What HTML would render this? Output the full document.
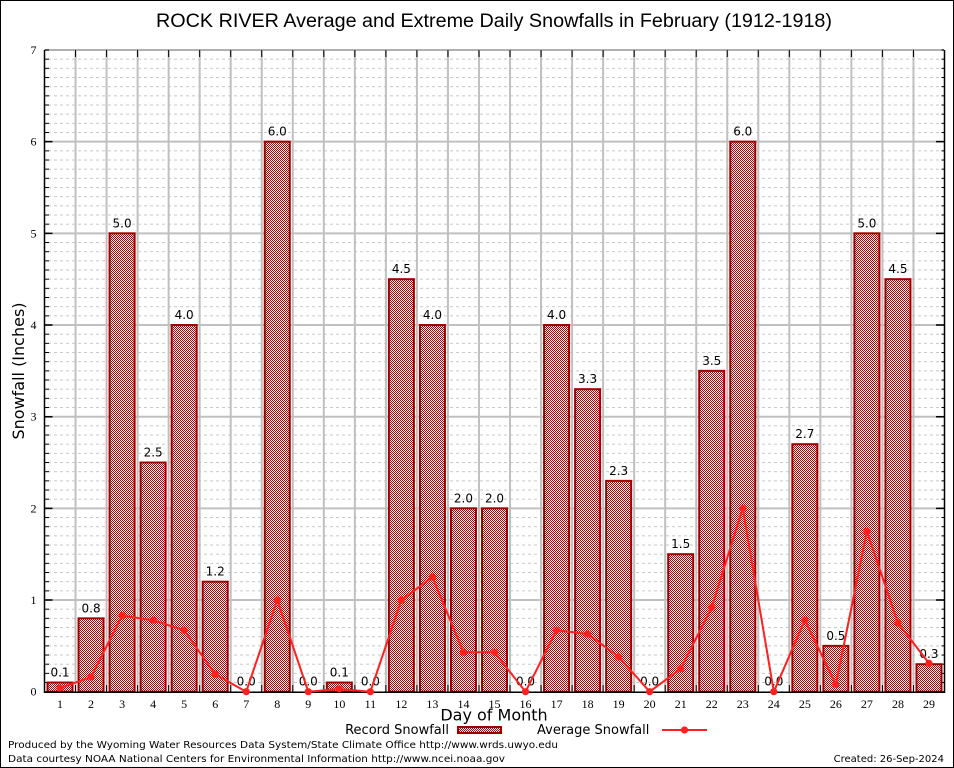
<!DOCTYPE html>
<html><head><meta charset="utf-8"><style>
html,body{margin:0;padding:0;background:#fff;}
svg{display:block;}
</style></head><body>
<svg width="954" height="768" viewBox="0 0 954 768" xmlns="http://www.w3.org/2000/svg">
<defs>
<pattern id="chk" patternUnits="userSpaceOnUse" x="0" y="0" width="2" height="2">
<rect x="0" y="0" width="2" height="2" fill="#ffffff"/>
<rect x="0" y="0" width="1" height="1" fill="#b00000"/>
<rect x="1" y="1" width="1" height="1" fill="#b00000"/>
</pattern>
<pattern id="minor" patternUnits="userSpaceOnUse" x="0" y="49.5" width="6" height="9.1671">
<rect x="0" y="0" width="3" height="1" fill="#c8c8c8"/>
</pattern>
<pattern id="tickL" patternUnits="userSpaceOnUse" x="0" y="49.5" width="954" height="9.1671">
<rect x="0" y="0" width="954" height="1" fill="#000"/>
</pattern>
</defs>
<rect x="0" y="0" width="954" height="768" fill="#fff"/>
<rect x="0.5" y="0.5" width="953" height="767" fill="none" stroke="#000" stroke-width="1"/>

<text x="494" y="27" text-anchor="middle" font-family="Liberation Sans, sans-serif" font-size="19" textLength="676" lengthAdjust="spacingAndGlyphs" fill="#000">ROCK RIVER Average and Extreme Daily Snowfalls in February (1912-1918)</text>

<rect x="45" y="49.5" width="899" height="642.5" fill="url(#minor)"/>
<path d="M45 600.03H944M45 508.36H944M45 416.69H944M45 325.02H944M45 233.35H944M45 141.67H944" stroke="#c0c0c0" stroke-width="2" fill="none"/>
<path d="M44.5 50H944" stroke="#b0b0b0" stroke-width="2" fill="none"/>
<path d="M75.53 50V691.7M106.57 50V691.7M137.60 50V691.7M168.64 50V691.7M199.67 50V691.7M230.71 50V691.7M261.74 50V691.7M292.78 50V691.7M323.81 50V691.7M354.84 50V691.7M385.88 50V691.7M416.91 50V691.7M447.95 50V691.7M478.98 50V691.7M510.02 50V691.7M541.05 50V691.7M572.09 50V691.7M603.12 50V691.7M634.16 50V691.7M665.19 50V691.7M696.22 50V691.7M727.26 50V691.7M758.29 50V691.7M789.33 50V691.7M820.36 50V691.7M851.40 50V691.7M882.43 50V691.7M913.47 50V691.7" stroke="#c0c0c0" stroke-width="2" fill="none"/>

<rect x="45" y="49.5" width="4" height="643" fill="url(#tickL)"/>
<rect x="941.5" y="49.5" width="2.5" height="643" fill="url(#tickL)"/>
<path d="M44.5 600.03H52.5M44.5 508.36H52.5M44.5 416.69H52.5M44.5 325.02H52.5M44.5 233.35H52.5M44.5 141.67H52.5M936 600.03H944M936 508.36H944M936 416.69H944M936 325.02H944M936 233.35H944M936 141.67H944" stroke="#000" stroke-width="1.5" fill="none"/>
<path d="M75.53 50V57M106.57 50V57M137.60 50V57M168.64 50V57M199.67 50V57M230.71 50V57M261.74 50V57M292.78 50V57M323.81 50V57M354.84 50V57M385.88 50V57M416.91 50V57M447.95 50V57M478.98 50V57M510.02 50V57M541.05 50V57M572.09 50V57M603.12 50V57M634.16 50V57M665.19 50V57M696.22 50V57M727.26 50V57M758.29 50V57M789.33 50V57M820.36 50V57M851.40 50V57M882.43 50V57M913.47 50V57M75.53 691.7V685M106.57 691.7V685M137.60 691.7V685M168.64 691.7V685M199.67 691.7V685M230.71 691.7V685M261.74 691.7V685M292.78 691.7V685M323.81 691.7V685M354.84 691.7V685M385.88 691.7V685M416.91 691.7V685M447.95 691.7V685M478.98 691.7V685M510.02 691.7V685M541.05 691.7V685M572.09 691.7V685M603.12 691.7V685M634.16 691.7V685M665.19 691.7V685M696.22 691.7V685M727.26 691.7V685M758.29 691.7V685M789.33 691.7V685M820.36 691.7V685M851.40 691.7V685M882.43 691.7V685M913.47 691.7V685" stroke="#000" stroke-width="1" fill="none"/>

<g fill="url(#chk)" stroke="#a00000" stroke-width="2">
<rect x="47.52" y="682.53" width="25" height="9.17"/>
<rect x="78.55" y="618.36" width="25" height="73.34"/>
<rect x="109.59" y="233.35" width="25" height="458.35"/>
<rect x="140.62" y="462.52" width="25" height="229.18"/>
<rect x="171.66" y="325.02" width="25" height="366.68"/>
<rect x="202.69" y="581.70" width="25" height="110.0"/>
<rect x="264.76" y="141.67" width="25" height="550.03"/>
<rect x="326.83" y="682.53" width="25" height="9.17"/>
<rect x="388.90" y="279.18" width="25" height="412.52"/>
<rect x="419.93" y="325.02" width="25" height="366.68"/>
<rect x="450.97" y="508.36" width="25" height="183.34"/>
<rect x="482.00" y="508.36" width="25" height="183.34"/>
<rect x="544.07" y="325.02" width="25" height="366.68"/>
<rect x="575.10" y="389.19" width="25" height="302.51"/>
<rect x="606.14" y="480.86" width="25" height="210.84"/>
<rect x="668.21" y="554.19" width="25" height="137.51"/>
<rect x="699.24" y="370.85" width="25" height="320.85"/>
<rect x="730.28" y="141.67" width="25" height="550.03"/>
<rect x="792.34" y="444.19" width="25" height="247.51"/>
<rect x="823.38" y="645.86" width="25" height="45.84"/>
<rect x="854.41" y="233.35" width="25" height="458.35"/>
<rect x="885.45" y="279.18" width="25" height="412.52"/>
<rect x="916.48" y="664.20" width="25" height="27.5"/>
</g>

<path d="M44.5 50V692.2H944.5V50" stroke="#000" stroke-width="1.5" fill="none"/>

<g font-family="DejaVu Sans, sans-serif" font-size="12" text-anchor="middle" fill="#000">
<text x="60.02" y="676.5">0.1</text>
<text x="91.05" y="612.4">0.8</text>
<text x="122.09" y="227.4">5.0</text>
<text x="153.12" y="456.5">2.5</text>
<text x="184.16" y="319.0">4.0</text>
<text x="215.19" y="575.7">1.2</text>
<text x="246.22" y="685.7">0.0</text>
<text x="277.26" y="135.7">6.0</text>
<text x="308.29" y="685.7">0.0</text>
<text x="339.33" y="676.5">0.1</text>
<text x="370.36" y="685.7">0.0</text>
<text x="401.40" y="273.2">4.5</text>
<text x="432.43" y="319.0">4.0</text>
<text x="463.47" y="502.4">2.0</text>
<text x="494.50" y="502.4">2.0</text>
<text x="525.53" y="685.7">0.0</text>
<text x="556.57" y="319.0">4.0</text>
<text x="587.60" y="383.2">3.3</text>
<text x="618.64" y="474.9">2.3</text>
<text x="649.67" y="685.7">0.0</text>
<text x="680.71" y="548.2">1.5</text>
<text x="711.74" y="364.9">3.5</text>
<text x="742.78" y="135.7">6.0</text>
<text x="773.81" y="685.7">0.0</text>
<text x="804.84" y="438.2">2.7</text>
<text x="835.88" y="639.9">0.5</text>
<text x="866.91" y="227.4">5.0</text>
<text x="897.95" y="273.2">4.5</text>
<text x="928.98" y="658.2">0.3</text>
</g>

<polyline fill="none" stroke="#ff2020" stroke-width="2" stroke-linejoin="round" points="60.02,688.03 91.05,677.03 122.09,615.61 153.12,620.20 184.16,630.28 215.19,674.28 246.22,691.7 277.26,600.03 308.29,691.7 339.33,688.95 370.36,691.7 401.40,600.03 432.43,577.11 463.47,652.28 494.50,652.28 525.53,691.7 556.57,630.28 587.60,633.95 618.64,656.87 649.67,691.7 680.71,668.78 711.74,607.36 742.78,508.36 773.81,691.7 804.84,620.20 835.88,684.37 866.91,531.28 897.95,622.95 928.98,663.28"/>
<g fill="#ff2020">
<circle cx="60.02" cy="688.03" r="3.6"/><circle cx="91.05" cy="677.03" r="3.6"/><circle cx="122.09" cy="615.61" r="3.6"/><circle cx="153.12" cy="620.20" r="3.6"/><circle cx="184.16" cy="630.28" r="3.6"/><circle cx="215.19" cy="674.28" r="3.6"/><circle cx="246.22" cy="691.7" r="3.6"/><circle cx="277.26" cy="600.03" r="3.6"/><circle cx="308.29" cy="691.7" r="3.6"/><circle cx="339.33" cy="688.95" r="3.6"/><circle cx="370.36" cy="691.7" r="3.6"/><circle cx="401.40" cy="600.03" r="3.6"/><circle cx="432.43" cy="577.11" r="3.6"/><circle cx="463.47" cy="652.28" r="3.6"/><circle cx="494.50" cy="652.28" r="3.6"/><circle cx="525.53" cy="691.7" r="3.6"/><circle cx="556.57" cy="630.28" r="3.6"/><circle cx="587.60" cy="633.95" r="3.6"/><circle cx="618.64" cy="656.87" r="3.6"/><circle cx="649.67" cy="691.7" r="3.6"/><circle cx="680.71" cy="668.78" r="3.6"/><circle cx="711.74" cy="607.36" r="3.6"/><circle cx="742.78" cy="508.36" r="3.6"/><circle cx="773.81" cy="691.7" r="3.6"/><circle cx="804.84" cy="620.20" r="3.6"/><circle cx="835.88" cy="684.37" r="3.6"/><circle cx="866.91" cy="531.28" r="3.6"/><circle cx="897.95" cy="622.95" r="3.6"/><circle cx="928.98" cy="663.28" r="3.6"/>
</g>

<g font-family="Liberation Serif, serif" font-size="12" text-anchor="end" fill="#000">
<text x="36.5" y="695.7">0</text>
<text x="36.5" y="604.0">1</text>
<text x="36.5" y="512.4">2</text>
<text x="36.5" y="420.7">3</text>
<text x="36.5" y="329.0">4</text>
<text x="36.5" y="237.4">5</text>
<text x="36.5" y="145.7">6</text>
<text x="36.5" y="54.0">7</text>
</g>
<g font-family="Liberation Serif, serif" font-size="12" text-anchor="middle" fill="#000">
<text x="60.02" y="708">1</text><text x="91.05" y="708">2</text><text x="122.09" y="708">3</text><text x="153.12" y="708">4</text><text x="184.16" y="708">5</text><text x="215.19" y="708">6</text><text x="246.22" y="708">7</text><text x="277.26" y="708">8</text><text x="308.29" y="708">9</text><text x="339.33" y="708">10</text><text x="370.36" y="708">11</text><text x="401.40" y="708">12</text><text x="432.43" y="708">13</text><text x="463.47" y="708">14</text><text x="494.50" y="708">15</text><text x="525.53" y="708">16</text><text x="556.57" y="708">17</text><text x="587.60" y="708">18</text><text x="618.64" y="708">19</text><text x="649.67" y="708">20</text><text x="680.71" y="708">21</text><text x="711.74" y="708">22</text><text x="742.78" y="708">23</text><text x="773.81" y="708">24</text><text x="804.84" y="708">25</text><text x="835.88" y="708">26</text><text x="866.91" y="708">27</text><text x="897.95" y="708">28</text><text x="928.98" y="708">29</text>
</g>

<text x="494" y="720.5" text-anchor="middle" font-family="DejaVu Sans, sans-serif" font-size="16" fill="#000">Day of Month</text>
<text transform="translate(24,371) rotate(-90)" text-anchor="middle" font-family="DejaVu Sans, sans-serif" font-size="16" fill="#000">Snowfall (Inches)</text>

<text x="449" y="734" text-anchor="end" font-family="DejaVu Sans, sans-serif" font-size="13" fill="#000">Record Snowfall</text>
<rect x="458" y="727" width="43" height="6" fill="url(#chk)" stroke="#a00000" stroke-width="2"/>
<text x="537" y="734" font-family="DejaVu Sans, sans-serif" font-size="13" fill="#000">Average Snowfall</text>
<path d="M662 730H707" stroke="#ff2020" stroke-width="2"/>
<circle cx="684.5" cy="730" r="3.6" fill="#ff2020"/>

<text x="8" y="748" font-family="DejaVu Sans, sans-serif" font-size="10" textLength="550" lengthAdjust="spacingAndGlyphs" fill="#000">Produced by the Wyoming Water Resources Data System/State Climate Office http://www.wrds.uwyo.edu</text>
<text x="8" y="762" font-family="DejaVu Sans, sans-serif" font-size="10" textLength="497" lengthAdjust="spacingAndGlyphs" fill="#000">Data courtesy NOAA National Centers for Environmental Information http://www.ncei.noaa.gov</text>
<text x="944" y="762" text-anchor="end" font-family="DejaVu Sans, sans-serif" font-size="10" fill="#000">Created:  26-Sep-2024</text>
</svg>
</body></html>
